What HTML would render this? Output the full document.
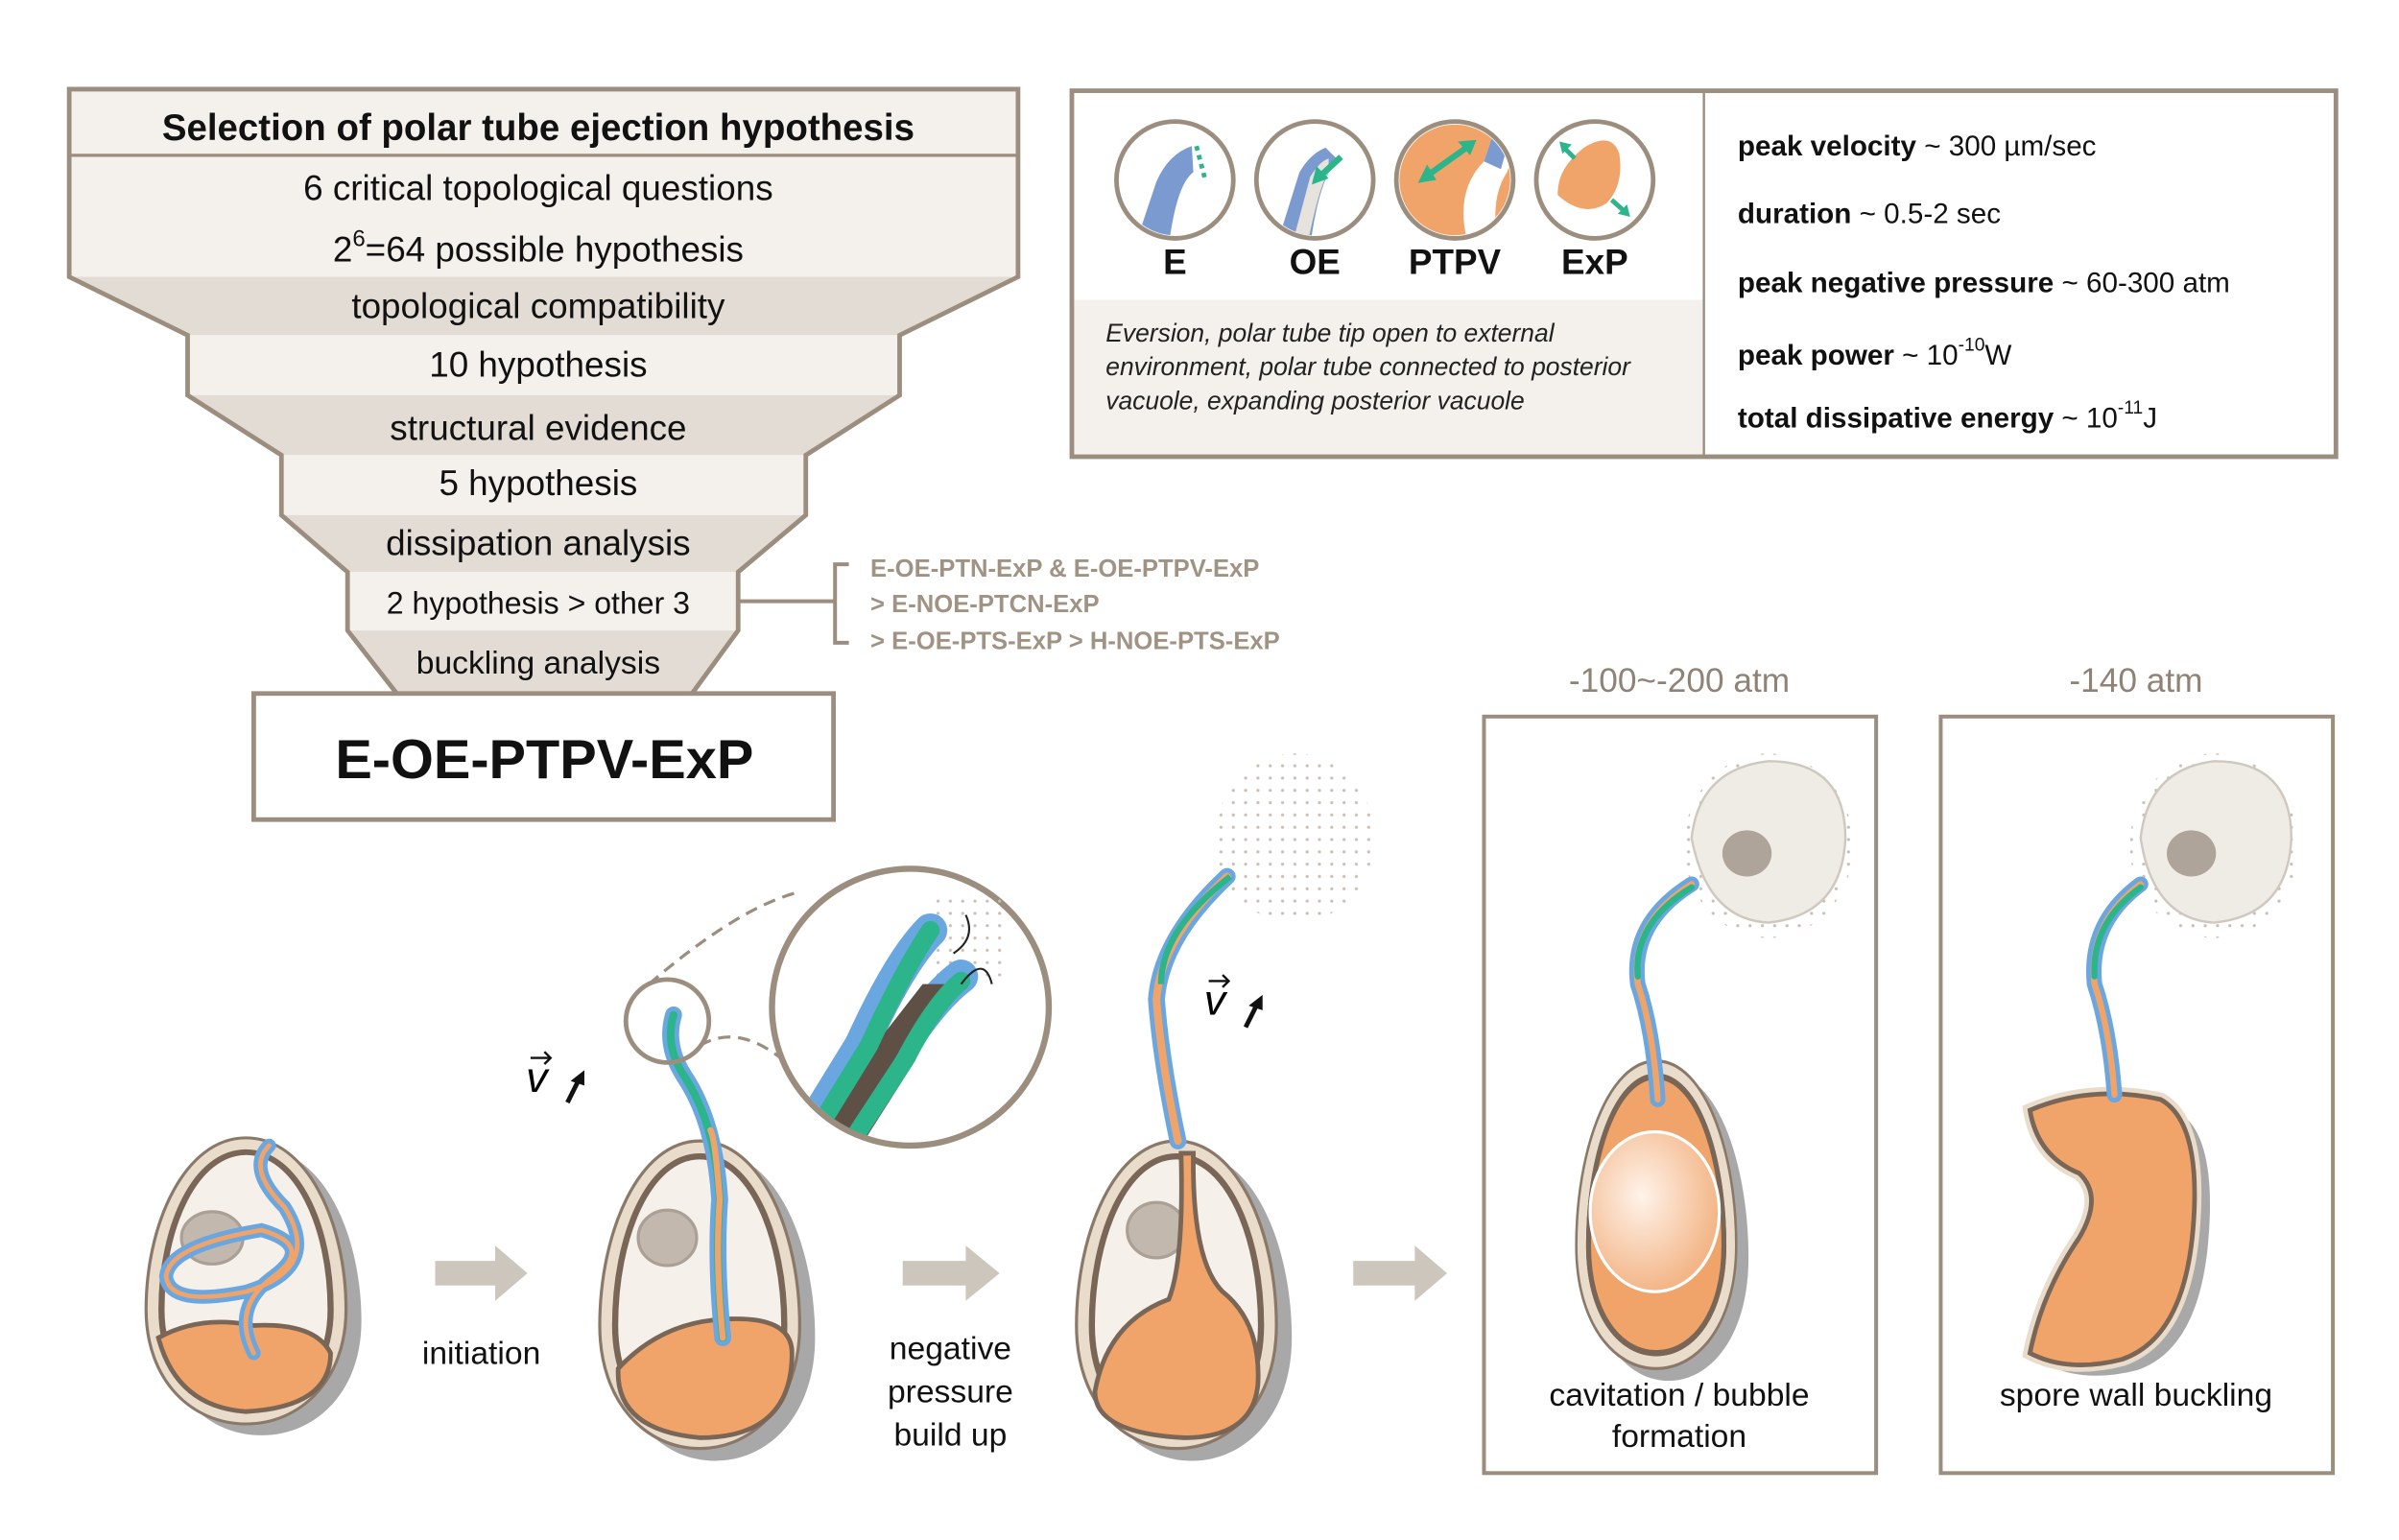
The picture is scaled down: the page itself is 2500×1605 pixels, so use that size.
<!DOCTYPE html>
<html><head><meta charset="utf-8"><style>
html,body{margin:0;padding:0;background:#fff}
svg{display:block}
text{font-family:"Liberation Sans",sans-serif}
</style></head><body>
<svg width="2500" height="1605" viewBox="0 0 1560 1001.5" xmlns="http://www.w3.org/2000/svg">
<defs>
<path id="egg" d="M65,0 C105,0 130,60 130,120 C130,170 100,200 65,200 C30,200 0,170 0,120 C0,60 25,0 65,0Z"/>
<path id="egin" d="M65,10 C98,10 120,62 120,120 C120,164 95,190 65,190 C35,190 10,164 10,120 C10,62 32,10 65,10Z"/>
<pattern id="dots" width="8" height="8" patternUnits="userSpaceOnUse"><circle cx="2" cy="2" r="1" fill="#c9bfb4"/></pattern>
<radialGradient id="bub" cx="0.4" cy="0.4" r="0.6"><stop offset="0" stop-color="#fff3ea"/><stop offset="1" stop-color="#f3b688"/></radialGradient>
<g id="spore">
<use href="#egg" fill="#a8a8a8" transform="translate(10,8)"/>
<use href="#egg" fill="#eadccb" stroke="#8a7868" stroke-width="2"/>
<use href="#egin" fill="#f5f0ea" stroke="#7a6656" stroke-width="4"/>
</g>
</defs>
<rect width="1560" height="1001.5" fill="#fff"/>

<!-- Funnel -->
<g stroke="none">
<rect x="45" y="58" width="617" height="43" fill="#f4f0ec"/>
<rect x="45" y="101" width="617" height="79" fill="#f4f0ec"/>
<polygon points="45,180 662,180 585,218 122,218" fill="#e3dcd5"/>
<rect x="122" y="218" width="463" height="39" fill="#f4f0ec"/>
<polygon points="122,257 585,257 524,296 183,296" fill="#e3dcd5"/>
<rect x="183" y="296" width="341" height="39" fill="#f4f0ec"/>
<polygon points="183,335 524,335 480,372 226,372" fill="#e3dcd5"/>
<rect x="226" y="372" width="254" height="38" fill="#f4f0ec"/>
<polygon points="226,410 480,410 450,451 258,451" fill="#e3dcd5"/>
</g>
<path d="M258,451 L226,410 V372 L183,335 V296 L122,257 V218 L45,180 V58 H662 V180 L585,218 V257 L524,296 V335 L480,372 V410 L450,451" fill="none" stroke="#9b8e7e" stroke-width="3"/>
<line x1="45" y1="101" x2="662" y2="101" stroke="#9b8e7e" stroke-width="2"/>
<rect x="165" y="451" width="377" height="82" fill="#fff" stroke="#9b8e7e" stroke-width="3"/>
<g font-size="23" text-anchor="middle" fill="#111">
<text x="350" y="91" font-weight="bold" font-size="24">Selection of polar tube ejection hypothesis</text>
<text x="350" y="130">6 critical topological questions</text>
<text x="350" y="170">2<tspan dy="-10" font-size="15">6</tspan><tspan dy="10">=64 possible hypothesis</tspan></text>
<text x="350" y="207">topological compatibility</text>
<text x="350" y="245">10 hypothesis</text>
<text x="350" y="286">structural evidence</text>
<text x="350" y="322">5 hypothesis</text>
<text x="350" y="361">dissipation analysis</text>
<text x="350" y="399" font-size="20">2 hypothesis &gt; other 3</text>
<text x="350" y="438" font-size="21">buckling analysis</text>
<text x="354" y="506" font-size="36" font-weight="bold">E-OE-PTPV-ExP</text>
</g>
<path d="M480,391 H543 M552,367 H543 V418 H552" fill="none" stroke="#9b8e7e" stroke-width="2.5"/>
<g font-size="16" font-weight="bold" fill="#a09383">
<text x="566" y="375">E-OE-PTN-ExP &amp; E-OE-PTPV-ExP</text>
<text x="566" y="398">&gt; E-NOE-PTCN-ExP</text>
<text x="566" y="422">&gt; E-OE-PTS-ExP &gt; H-NOE-PTS-ExP</text>
</g>

<!-- Right info box -->
<rect x="697" y="195" width="411" height="102" fill="#f4f0ec"/>
<rect x="697" y="59" width="822" height="238" fill="none" stroke="#9b8e7e" stroke-width="3"/>
<line x1="1108" y1="60" x2="1108" y2="296" stroke="#9b8e7e" stroke-width="1.5"/>
<g stroke="#9b8e7e" stroke-width="3" fill="#fff">
<circle cx="764" cy="117" r="38"/><circle cx="855" cy="117" r="38"/><circle cx="946" cy="117" r="38"/><circle cx="1037" cy="117" r="38"/>
</g>
<clipPath id="c1"><circle cx="764" cy="117" r="36"/></clipPath>
<clipPath id="c2"><circle cx="855" cy="117" r="36"/></clipPath>
<clipPath id="c3"><circle cx="946" cy="117" r="36"/></clipPath>
<path clip-path="url(#c1)" d="M738,160 L752,118 Q760,100 775,95 L776,112 Q765,120 760,160Z" fill="#7b9bd0"/>
<path d="M778,95 L784,118" stroke="#2cb58a" stroke-width="3" stroke-dasharray="3,3"/>
<g clip-path="url(#c2)"><path d="M830,160 L845,112 Q852,100 862,96 L870,104 Q858,115 852,160Z" fill="#7b9bd0"/><path d="M840,160 L852,115 Q858,105 864,103 L864,112 Q858,120 850,160Z" fill="#e6e2dc"/></g>
<path d="M872,102 L858,115" stroke="#2cb58a" stroke-width="4"/><polygon points="853,120 856,108 864,116" fill="#2cb58a"/>
<g clip-path="url(#c3)"><rect x="900" y="70" width="90" height="100" fill="#f0a46a"/><path d="M955,160 Q945,125 965,105 L975,75 L990,80 L980,112 Q968,130 975,160Z" fill="#fff"/><path d="M965,105 L975,75 L985,78 L976,110Z" fill="#7b9bd0"/></g>
<line x1="927" y1="115" x2="955" y2="95" stroke="#2cb58a" stroke-width="4"/>
<polygon points="922,119 928,107 934,117" fill="#2cb58a"/><polygon points="960,91 948,92 956,101" fill="#2cb58a"/>
<path d="M1013,127 Q1012,110 1030,96 Q1048,85 1053,100 Q1056,120 1045,132 Q1030,142 1013,127Z" fill="#f0a46a"/>
<path d="M1016,95 L1024,103 M1048,130 L1057,138" stroke="#2cb58a" stroke-width="3"/>
<polygon points="1014,92 1022,94 1016,100" fill="#2cb58a"/><polygon points="1060,141 1052,139 1058,133" fill="#2cb58a"/>
<g font-size="23" font-weight="bold" text-anchor="middle" fill="#111">
<text x="764" y="178">E</text><text x="855" y="178">OE</text><text x="946" y="178">PTPV</text><text x="1037" y="178">ExP</text>
</g>
<g font-size="16.5" font-style="italic" fill="#222">
<text x="719" y="222">Eversion, polar tube tip open to external</text>
<text x="719" y="244">environment, polar tube connected to posterior</text>
<text x="719" y="266">vacuole, expanding posterior vacuole</text>
</g>
<g font-size="18.5" fill="#111">
<text x="1130" y="101"><tspan font-weight="bold">peak velocity</tspan> ~ 300 µm/sec</text>
<text x="1130" y="145"><tspan font-weight="bold">duration</tspan> ~ 0.5-2 sec</text>
<text x="1130" y="190"><tspan font-weight="bold">peak negative pressure</tspan> ~ 60-300 atm</text>
<text x="1130" y="237"><tspan font-weight="bold">peak power</tspan> ~ 10<tspan dy="-9" font-size="12">-10</tspan><tspan dy="9">W</tspan></text>
<text x="1130" y="278"><tspan font-weight="bold">total dissipative energy</tspan> ~ 10<tspan dy="-9" font-size="12">-11</tspan><tspan dy="9">J</tspan></text>
</g>

<!-- Bottom boxes -->
<rect x="965" y="466" width="255" height="492" fill="#fff" stroke="#9b8e7e" stroke-width="2.5"/>
<rect x="1262" y="466" width="255" height="492" fill="#fff" stroke="#9b8e7e" stroke-width="2.5"/>
<g font-size="22" fill="#8f8376" text-anchor="middle">
<text x="1092" y="450">-100~-200 atm</text><text x="1389" y="450">-140 atm</text>
</g>
<g font-size="21" fill="#111" text-anchor="middle">
<text x="1092" y="914">cavitation / bubble</text><text x="1092" y="941">formation</text>
<text x="1389" y="914">spore wall buckling</text>
<text x="313" y="887">initiation</text>
<text x="618" y="884">negative</text><text x="618" y="912">pressure</text><text x="618" y="940">build up</text>
</g>
<g fill="#cdc6bc">
<polygon points="283,820 322,820 322,810 343,828 322,846 322,836 283,836"/>
<polygon points="587,820 628,820 628,810 650,828 628,846 628,836 587,836"/>
<polygon points="880,820 920,820 920,810 941,828 920,846 920,836 880,836"/>
</g>

<!-- Spore 1 -->
<use href="#spore" transform="translate(95,740) scale(1,0.93)"/>
<path d="M103,870 Q130,855 165,862 Q205,860 215,880 Q215,915 160,918 Q115,915 103,870Z" fill="#f0a46a" stroke="#7a6656" stroke-width="3"/>
<ellipse cx="138" cy="805" rx="20" ry="17" fill="#c2b8ae" stroke="#aaa095" stroke-width="2"/>
<g fill="none" stroke-linecap="round">
<path d="M165,880 Q150,850 178,830 Q205,810 170,800 Q110,810 108,830 Q110,850 160,840 Q210,825 185,785 Q160,760 175,745" stroke="#6aa6e0" stroke-width="9"/>
<path d="M165,880 Q150,850 178,830 Q205,810 170,800 Q110,810 108,830 Q110,850 160,840 Q210,825 185,785 Q160,760 175,745" stroke="#f0a46a" stroke-width="3"/>
</g>
<!-- Spore 2 -->
<use href="#spore" transform="translate(390,742) scale(1,1.0)"/>
<path d="M402,890 Q430,860 470,858 Q515,855 515,880 Q515,935 455,935 Q400,930 402,890Z" fill="#f0a46a" stroke="#7a6656" stroke-width="3"/>
<ellipse cx="434" cy="805" rx="19" ry="18" fill="#c2b8ae" stroke="#aaa095" stroke-width="2"/>
<g fill="none" stroke-linecap="round">
<path d="M470,870 Q465,820 468,780 Q465,730 445,700 Q432,680 438,660" stroke="#6aa6e0" stroke-width="11"/>
<path d="M470,870 Q465,820 468,780 Q465,730 445,700 Q432,680 438,660" stroke="#2cb58a" stroke-width="5"/>
<path d="M470,870 Q465,820 468,780 Q465,740 462,735" stroke="#f0a46a" stroke-width="4"/>
</g>
<circle cx="434" cy="664" r="27" fill="none" stroke="#9b8e7e" stroke-width="3"/>
<path d="M422,640 Q480,590 520,580 M455,680 Q480,665 510,690" fill="none" stroke="#9b8e7e" stroke-width="2" stroke-dasharray="8,5"/>
<circle cx="592" cy="655" r="90" fill="#fff" stroke="#9b8e7e" stroke-width="4"/>
<rect x="605" y="585" width="50" height="50" fill="url(#dots)"/>
<clipPath id="mg"><circle cx="592" cy="655" r="88"/></clipPath>
<g clip-path="url(#mg)" fill="none" stroke-linecap="round">
<path d="M520,745 L560,680 Q585,625 605,605" stroke="#6aa6e0" stroke-width="22"/>
<path d="M545,745 L580,690 Q605,650 625,635" stroke="#6aa6e0" stroke-width="22"/>
<path d="M530,745 L575,672 L600,640 L620,640 L595,690 L560,745Z" fill="#5f5045" stroke="none"/>
<path d="M525,745 L565,680 Q588,630 605,605" stroke="#2cb58a" stroke-width="12"/>
<path d="M552,745 L588,690 Q608,652 625,638" stroke="#2cb58a" stroke-width="12"/>
</g>
<path d="M620,620 Q635,610 628,595 M625,640 Q640,620 645,640" fill="none" stroke="#222" stroke-width="1.3"/>
<!-- v labels -->
<text x="342" y="710" font-family="Liberation Serif,serif" font-style="italic" font-size="28">v</text>
<path d="M345,688 H358 M354,684 L358,688 L354,692" fill="none" stroke="#111" stroke-width="1.5"/>
<path d="M369,717 L377,701" stroke="#111" stroke-width="3"/><polygon points="380,696 371,703 380,706" fill="#111"/>
<text x="783" y="660" font-family="Liberation Serif,serif" font-style="italic" font-size="28">v</text>
<path d="M786,638 H799 M795,634 L799,638 L795,642" fill="none" stroke="#111" stroke-width="1.5"/>
<path d="M810,668 L818,652" stroke="#111" stroke-width="3"/><polygon points="821,647 812,654 821,657" fill="#111"/>
<!-- Spore 3 -->
<ellipse cx="842" cy="545" rx="52" ry="55" fill="url(#dots)"/>
<use href="#spore" transform="translate(700,742) scale(1,1.0)"/>
<ellipse cx="752" cy="800" rx="19" ry="18" fill="#c2b8ae" stroke="#aaa095" stroke-width="2"/>
<path d="M712,905 Q720,860 760,845 Q770,820 768,750 L776,750 Q775,820 795,840 Q820,860 818,900 Q815,935 770,935 Q712,932 712,905Z" fill="#f0a46a" stroke="#7a6656" stroke-width="3"/>
<g fill="none" stroke-linecap="round">
<path d="M766,742 Q755,690 752,650 Q755,610 798,570" stroke="#6aa6e0" stroke-width="11"/>
<path d="M766,742 Q755,690 752,650 Q755,610 798,570" stroke="#f0a46a" stroke-width="5"/>
</g>
<path d="M755,640 Q755,605 800,570" fill="none" stroke="#2cb58a" stroke-width="4"/>
<!-- Spore 4 -->
<ellipse cx="1150" cy="550" rx="55" ry="60" fill="url(#dots)"/>
<path d="M1100,545 Q1105,500 1150,495 Q1200,495 1200,545 Q1198,595 1150,600 Q1110,598 1100,545Z" fill="#efebe5" stroke="#cfc8bf" stroke-width="1.5"/>
<ellipse cx="1136" cy="555" rx="16" ry="15" fill="#aea49a"/>
<g transform="translate(1025,690) scale(0.8,1)"><use href="#spore"/><use href="#egin" fill="#f0a46a" stroke="#7a6656" stroke-width="4"/></g>
<ellipse cx="1076" cy="788" rx="42" ry="52" fill="url(#bub)" stroke="#fff" stroke-width="2"/>
<g fill="none" stroke-linecap="round">
<path d="M1078,715 Q1075,670 1065,640 Q1060,600 1100,575" stroke="#6aa6e0" stroke-width="10"/>
<path d="M1078,715 Q1075,670 1065,640 Q1060,600 1100,575" stroke="#f0a46a" stroke-width="4"/>
<path d="M1065,635 Q1062,600 1100,577" stroke="#2cb58a" stroke-width="4"/>
</g>
<!-- Spore 5 -->
<ellipse cx="1440" cy="550" rx="55" ry="60" fill="url(#dots)"/>
<path d="M1392,545 Q1397,500 1440,495 Q1490,495 1490,545 Q1488,595 1440,600 Q1400,598 1392,545Z" fill="#efebe5" stroke="#cfc8bf" stroke-width="1.5"/>
<ellipse cx="1425" cy="555" rx="16" ry="15" fill="#aea49a"/>
<g transform="translate(10,7)"><path d="M1320,722 Q1360,705 1405,715 Q1432,730 1426,800 Q1420,870 1380,884 Q1345,893 1320,880 Q1328,840 1352,805 Q1368,778 1352,763 Q1325,752 1320,722Z" fill="#a8a8a8"/></g>
<path d="M1320,722 Q1360,705 1405,715 Q1432,730 1426,800 Q1420,870 1380,884 Q1345,893 1320,880 Q1328,840 1352,805 Q1368,778 1352,763 Q1325,752 1320,722Z" fill="#f0a46a" stroke="#eadccb" stroke-width="9"/>
<path d="M1320,722 Q1360,705 1405,715 Q1432,730 1426,800 Q1420,870 1380,884 Q1345,893 1320,880 Q1328,840 1352,805 Q1368,778 1352,763 Q1325,752 1320,722Z" fill="#f0a46a" stroke="#7a6656" stroke-width="3"/>
<g fill="none" stroke-linecap="round">
<path d="M1375,712 Q1372,670 1362,640 Q1358,600 1392,575" stroke="#6aa6e0" stroke-width="10"/>
<path d="M1375,712 Q1372,670 1362,640 Q1358,600 1392,575" stroke="#f0a46a" stroke-width="4"/>
<path d="M1362,635 Q1360,600 1392,577" stroke="#2cb58a" stroke-width="4"/>
</g>
</svg>
</body></html>
